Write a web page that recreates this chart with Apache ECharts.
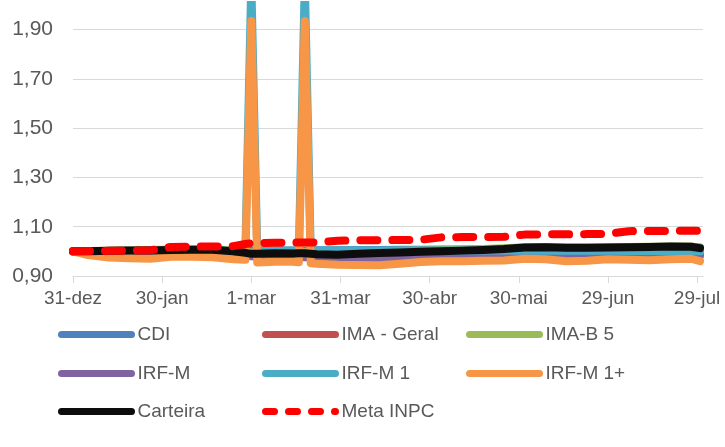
<!DOCTYPE html>
<html>
<head>
<meta charset="utf-8">
<script src="https://cdn.jsdelivr.net/npm/echarts@6/dist/echarts.min.js"></script>
<style>
html,body{margin:0;padding:0;background:#fff;}
#chart{width:725px;height:447px;}
</style>
</head>
<body>
<div id="chart"></div>
<script>
// Day offsets from 31-dez-2020
const days = [0, 5, 12, 19, 26, 33, 40, 47, 54, 58, 60, 62, 68, 74, 76, 78, 80, 82, 89, 96, 103, 110, 117, 124, 131, 138, 145, 152, 159, 166, 173, 180, 187, 194, 201, 208, 211];

const cdi = [1.000,1.000,1.001,1.001,1.001,1.002,1.002,1.002,1.003,1.003,1.003,1.003,1.004,1.004,1.004,1.004,1.004,1.005,1.005,1.006,1.006,1.007,1.007,1.008,1.008,1.009,1.010,1.010,1.011,1.012,1.012,1.013,1.014,1.014,1.015,1.016,1.016];
const imaGeral = [1.000,0.998,0.996,0.996,0.995,0.997,0.997,0.996,0.991,0.989,0.988,0.987,0.987,0.987,0.987,0.986,0.986,0.985,0.984,0.985,0.987,0.989,0.991,0.993,0.994,0.995,0.997,1.000,1.000,0.998,0.999,1.000,1.000,1.001,1.002,1.003,0.999];
const imaB5 = [1.000,1.001,1.003,1.005,1.006,1.008,1.009,1.010,1.003,0.999,0.996,0.996,0.997,0.996,0.997,0.997,0.996,0.995,0.994,0.997,1.000,1.002,1.004,1.006,1.008,1.010,1.013,1.017,1.018,1.016,1.016,1.017,1.018,1.019,1.020,1.020,1.015];
const irfm = [1.000,0.995,0.990,0.989,0.988,0.990,0.990,0.989,0.983,0.981,0.980,0.978,0.978,0.978,0.977,0.976,0.975,0.974,0.972,0.971,0.972,0.975,0.979,0.980,0.980,0.981,0.982,0.985,0.984,0.981,0.982,0.984,0.983,0.983,0.985,0.986,0.982];
const irfm1 = [1.000,1.000,1.001,1.001,1.002,1.002,1.003,1.003,1.002,1.002,2.100,1.003,1.004,1.004,1.004,2.100,1.004,1.004,1.005,1.005,1.004,1.004,1.004,1.003,1.003,1.003,1.003,1.002,1.002,1.002,1.002,1.002,1.001,1.001,1.001,1.001,1.000];
const irfm1p = [1.000,0.985,0.975,0.972,0.970,0.978,0.978,0.976,0.968,0.966,1.935,0.955,0.958,0.958,0.956,1.935,0.952,0.950,0.946,0.945,0.944,0.950,0.957,0.960,0.960,0.962,0.963,0.970,0.968,0.960,0.962,0.968,0.966,0.964,0.968,0.970,0.960];
const carteira = [1.000,1.000,1.002,1.003,1.004,1.006,1.007,1.007,1.000,0.994,0.990,0.990,0.992,0.991,0.992,0.992,0.990,0.988,0.986,0.990,0.993,0.995,0.998,1.000,1.003,1.006,1.010,1.016,1.017,1.015,1.015,1.016,1.017,1.018,1.020,1.019,1.013];
const metaInpc = [1.000,1.001,1.002,1.003,1.004,1.018,1.019,1.020,1.021,1.030,1.033,1.034,1.035,1.035,1.036,1.036,1.036,1.036,1.043,1.045,1.045,1.046,1.047,1.057,1.058,1.058,1.059,1.068,1.069,1.069,1.070,1.071,1.082,1.083,1.083,1.084,1.084];

const xTicks = [0, 30, 60, 90, 120, 150, 180, 210];
const yTicks = [0.9, 1.1, 1.3, 1.5, 1.7, 1.9];
const months = ['jan','fev','mar','abr','mai','jun','jul','ago','set','out','nov','dez'];

const seriesDefs = [
  {name: 'CDI', data: cdi, color: '#4F81BD'},
  {name: 'IMA - Geral', data: imaGeral, color: '#C0504D'},
  {name: 'IMA-B 5', data: imaB5, color: '#9BBB59'},
  {name: 'IRF-M', data: irfm, color: '#8064A2'},
  {name: 'IRF-M 1', data: irfm1, color: '#4BACC6'},
  {name: 'IRF-M 1+', data: irfm1p, color: '#F79646'},
  {name: 'Carteira', data: carteira, color: '#0D0D0D'},
  {name: 'Meta INPC', data: metaInpc, color: '#FF0000', dash: [17, 15]}
];

function dayLabel(v) {
  const d = new Date(2020, 11, 31);
  d.setDate(d.getDate() + Math.round(v));
  return d.getDate() + '-' + months[d.getMonth()];
}

const FONT = "'Liberation Sans', Arial, sans-serif";
const TXT = '#595959';

const series = seriesDefs.map(s => ({
  name: s.name,
  type: 'line',
  data: s.data.map((v, i) => [days[i], v]),
  symbol: 'none',
  smooth: false,
  color: s.color,
  lineStyle: {width: 8, color: s.color, cap: 'round', join: 'round', type: s.dash || 'solid'},
  emphasis: {disabled: true},
  animation: false
}));

const legendCols = [58, 262, 466];
const legendRows = [325, 364, 402];
const legends = seriesDefs.map((s, i) => ({
  data: [s.name],
  left: legendCols[i % 3],
  top: legendRows[Math.floor(i / 3)],
  padding: 0,
  itemWidth: 70,
  itemHeight: 14,
  selectedMode: false,
  textStyle: {fontFamily: FONT, fontSize: 19, color: TXT, padding: [0, 0, 0, 1]},
  itemStyle: {color: 'transparent', borderWidth: 0},
  lineStyle: {width: 7, cap: 'round', type: s.dash ? [9, 14] : 'solid'}
}));

const chart = echarts.init(document.getElementById('chart'), null, {renderer: 'canvas'});
chart.setOption({
  animation: false,
  backgroundColor: '#fff',
  grid: {left: 73, right: 22, top: 5, bottom: 171, containLabel: false},
  xAxis: {
    type: 'value',
    min: 0, max: 212, interval: 30,
    axisLine: {show: true, lineStyle: {color: '#D9D9D9', width: 1}},
    axisTick: {show: true, length: 7, lineStyle: {color: '#D9D9D9'}, customValues: xTicks},
    axisLabel: {customValues: xTicks, formatter: dayLabel, fontFamily: FONT, fontSize: 19, color: TXT, margin: 13},
    splitLine: {show: false}
  },
  yAxis: {
    type: 'value',
    min: 0.9, max: 2.0, interval: 0.1,
    axisLine: {show: false},
    axisTick: {show: false, customValues: yTicks},
    axisLabel: {customValues: yTicks, formatter: v => v.toFixed(2).replace('.', ','), fontFamily: FONT, fontSize: 21, color: TXT, margin: 20},
    splitLine: {show: true, lineStyle: {color: '#D9D9D9', width: 1}}
  },
  legend: legends,
  series: series
});
</script>
</body>
</html>
